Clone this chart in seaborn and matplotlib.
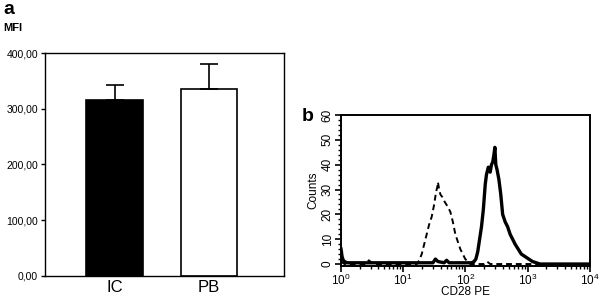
import numpy as np
import pandas as pd
import matplotlib
matplotlib.use("Agg")
import matplotlib.pyplot as plt
import seaborn as sns
from matplotlib.ticker import LogLocator, NullFormatter, MultipleLocator

# ---------------------------
# Data
# ---------------------------
groups = ["IC", "PB"]
mfi = [315, 335]
mfi_err = [27, 45]
mfi_ticks = [0, 100, 200, 300, 400]
mfi_ticklabels = ["0,00", "100,00", "200,00", "300,00", "400,00"]

# isotype control histogram (dashed), x in log10 decades
iso_dec = [0.00, 0.03, 0.06, 0.40, 0.45, 0.50, 0.55, 1.22, 1.26, 1.30, 1.34, 1.38,
           1.42, 1.46, 1.50, 1.53, 1.55, 1.56, 1.58, 1.60, 1.63, 1.67, 1.72, 1.76,
           1.80, 1.84, 1.88, 1.92, 1.96, 2.00, 2.04, 2.08, 2.30, 2.35, 2.40, 4.00]
iso_cnt = [1, 0.5, 0, 0, 1.5, 0.5, 0, 0, 1.5, 4, 8, 12,
           16, 19, 24, 29, 31, 33, 30, 28, 27, 25, 23, 21,
           17, 12, 9, 6, 4, 2, 1, 0, 0, 1, 0, 0]

# CD28 PE histogram (solid)
cd28_dec = [0.00, 0.01, 0.02, 0.04, 0.06, 0.10, 0.30, 0.60, 0.90, 1.20, 1.48, 1.52,
            1.56, 1.66, 1.70, 1.74, 1.90, 2.06, 2.10, 2.14, 2.17, 2.20, 2.23, 2.26,
            2.29, 2.32, 2.34, 2.37, 2.40, 2.42, 2.44, 2.46, 2.475, 2.49, 2.51, 2.54,
            2.57, 2.60, 2.64, 2.68, 2.72, 2.76, 2.80, 2.85, 2.90, 2.96, 3.02, 3.08,
            3.14, 3.20, 4.00]
cd28_cnt = [6.5, 5, 3, 1.5, 1, 0.5, 0.5, 0.5, 0.5, 0.5, 0.5, 2,
            1, 0.5, 1.5, 0.5, 0.5, 0.5, 0.5, 1, 2, 5, 10, 15,
            22, 32, 36, 39, 37, 40, 41, 44, 47, 40, 38, 34,
            28, 20, 17, 15, 12, 10, 8, 6, 4, 3, 2, 1,
            0.5, 0, 0]

# ---------------------------
# Figure
# ---------------------------
sns.set_theme(style="white")
plt.rcParams["font.family"] = ["Liberation Sans", "DejaVu Sans"]
plt.rcParams["text.color"] = "black"
plt.rcParams["xtick.color"] = "black"
plt.rcParams["ytick.color"] = "black"
plt.rcParams["axes.labelcolor"] = "black"

fig = plt.figure(figsize=(6.0, 2.98), dpi=100)

# Panel a: bar chart
ax1 = fig.add_axes([0.075, 0.074, 0.398, 0.748])
df_a = pd.DataFrame({"group": groups, "mfi": mfi})
sns.barplot(data=df_a, x="group", y="mfi", ax=ax1, width=0.6,
            palette=["black", "white"], hue="group", legend=False,
            edgecolor="black", linewidth=1.2, errorbar=None)
ax1.errorbar([0, 1], mfi, yerr=[[0, 0], mfi_err], fmt="none", ecolor="black",
             elinewidth=1.2, capsize=6.5, capthick=1.2)
ax1.set_xlim(-0.735, 1.79)
ax1.set_ylim(0, 400)
ax1.set_yticks(mfi_ticks)
ax1.set_yticklabels(mfi_ticklabels, fontsize=7.5)
ax1.set_xticklabels(groups, fontsize=12)
ax1.set_xlabel("")
ax1.set_ylabel("")
ax1.tick_params(axis="y", direction="out", length=3, width=1, pad=2, left=True)
ax1.tick_params(axis="x", length=0, pad=3)
for s in ax1.spines.values():
    s.set_visible(True)
    s.set_color("black")
    s.set_linewidth(1.0)

fig.text(0.005, 0.995, "a", fontsize=14, fontweight="bold", va="top", ha="left")
fig.text(0.005, 0.905, "MFI", fontsize=8, fontweight="bold", va="center", ha="left")

# Panel b: flow histogram
ax2 = fig.add_axes([0.568, 0.109, 0.415, 0.505])
df_iso = pd.DataFrame({"fl": 10 ** np.array(iso_dec), "counts": iso_cnt})
df_cd = pd.DataFrame({"fl": 10 ** np.array(cd28_dec), "counts": cd28_cnt})
sns.lineplot(data=df_iso, x="fl", y="counts", ax=ax2, color="black",
             linewidth=1.4, linestyle=(0, (3, 2)))
sns.lineplot(data=df_cd, x="fl", y="counts", ax=ax2, color="black",
             linewidth=2.4)
ax2.set_xscale("log")
ax2.set_xlim(1, 1e4)
ax2.set_ylim(-0.6, 60)
ax2.xaxis.set_major_locator(LogLocator(base=10, numticks=10))
ax2.xaxis.set_minor_locator(LogLocator(base=10, subs=np.arange(2, 10), numticks=10))
ax2.xaxis.set_minor_formatter(NullFormatter())
ax2.yaxis.set_major_locator(MultipleLocator(10))
ax2.yaxis.set_minor_locator(MultipleLocator(2))
ax2.tick_params(axis="both", which="major", direction="out", length=4, width=1.2,
                labelsize=8.5, pad=1, bottom=True, left=True)
ax2.tick_params(axis="both", which="minor", direction="out", length=2.5, width=1,
                bottom=True, left=True)
for lab in ax2.get_yticklabels():
    lab.set_rotation(90)
    lab.set_va("center")
ax2.set_xlabel("CD28 PE", fontsize=8.5, labelpad=-1)
ax2.set_ylabel("Counts", fontsize=8.5, labelpad=2)
for s in ax2.spines.values():
    s.set_visible(True)
    s.set_color("black")
    s.set_linewidth(1.4)

fig.text(0.503, 0.61, "b", fontsize=14, fontweight="bold", va="center", ha="left")

fig.savefig("out.png", dpi=100)
